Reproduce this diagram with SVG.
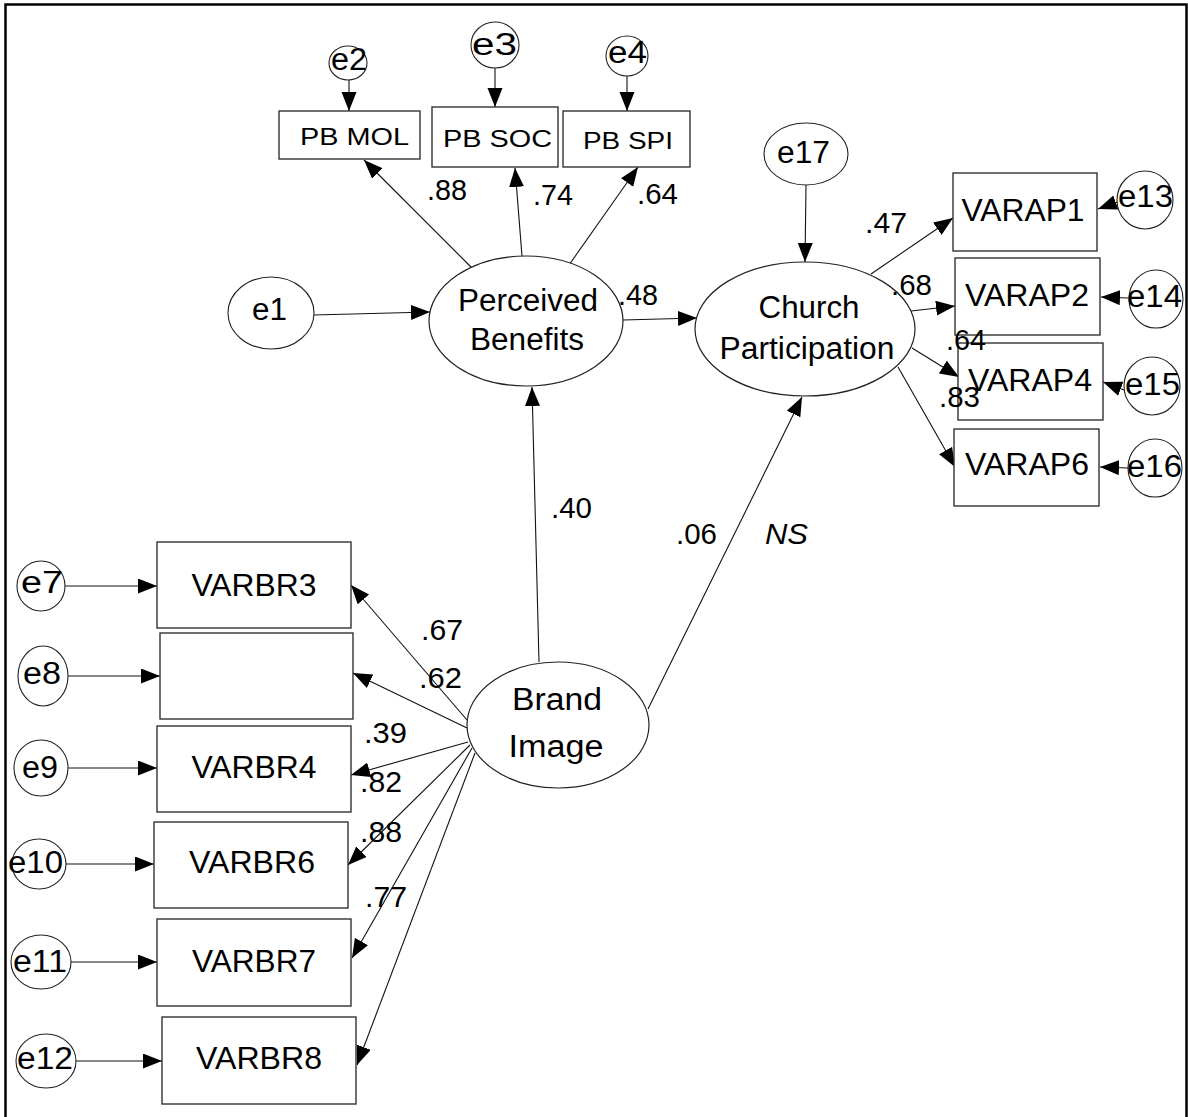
<svg xmlns="http://www.w3.org/2000/svg" width="1188" height="1117" viewBox="0 0 1188 1117">
  <defs>
    <marker id="arrow" markerUnits="userSpaceOnUse" markerWidth="20" markerHeight="16" refX="19" refY="7.5" orient="auto">
      <path d="M0,0 L19,7.5 L0,15 z" fill="#000"/>
    </marker>
    <style>
      text { font-family: "Liberation Sans", Arial, sans-serif; fill: #000; }
      .box { fill: #fff; stroke: #333; stroke-width: 1.4; }
      .lat { fill: #fff; stroke: #222; stroke-width: 1.2; }
      .err { fill: #fff; stroke: #222; stroke-width: 1.1; }
      .lbl { font-size: 31px; text-anchor: middle; }
      .pb { font-size: 24px; }
      .e { font-size: 31px; }
      .num { font-size: 29px; }
      .path { stroke: #111; stroke-width: 1.1; fill: none; marker-end: url(#arrow); }
      .frame { stroke: #000; stroke-width: 2.5; fill: none; }
    </style>
  </defs>
  <rect width="1188" height="1117" fill="#fff"/>
  <polyline class="frame" points="5.5,1117 5.5,4.5 1186.5,4.5 1186.5,1117"/>

  <!-- connectors -->
  <g id="connectors">
    <!-- error terms -->
    <line class="path" x1="349" y1="80" x2="349" y2="111"/>
    <line class="path" x1="495" y1="68" x2="495" y2="107"/>
    <line class="path" x1="627" y1="76" x2="627" y2="111"/>
    <line class="path" x1="313" y1="315" x2="430" y2="312"/>
    <line class="path" x1="806" y1="185" x2="805" y2="262"/>
    <line class="path" x1="1120" y1="201" x2="1098" y2="209"/>
    <line class="path" x1="1128" y1="298" x2="1101" y2="297"/>
    <line class="path" x1="1124" y1="390" x2="1103" y2="382"/>
    <line class="path" x1="1128" y1="468" x2="1100" y2="467"/>
    <line class="path" x1="65" y1="586" x2="157" y2="586"/>
    <line class="path" x1="68" y1="676" x2="160" y2="676"/>
    <line class="path" x1="68" y1="768" x2="157" y2="768"/>
    <line class="path" x1="66" y1="864" x2="154" y2="864"/>
    <line class="path" x1="71" y1="962" x2="157" y2="962"/>
    <line class="path" x1="76" y1="1061" x2="162" y2="1061"/>
    <!-- Perceived Benefits loadings -->
    <line class="path" x1="472" y1="268" x2="364" y2="160"/>
    <line class="path" x1="522" y1="256" x2="515" y2="168"/>
    <line class="path" x1="569" y1="265" x2="638" y2="167"/>
    <!-- structural paths -->
    <line class="path" x1="623" y1="320" x2="697" y2="318"/>
    <line class="path" x1="539" y1="662" x2="532" y2="387"/>
    <line class="path" x1="648" y1="709" x2="802" y2="397"/>
    <!-- Church Participation loadings -->
    <line class="path" x1="871" y1="274" x2="953" y2="218"/>
    <line class="path" x1="911" y1="311" x2="955" y2="306"/>
    <line class="path" x1="912" y1="348" x2="959" y2="377"/>
    <line class="path" x1="898" y1="367" x2="955" y2="467"/>
    <!-- Brand Image loadings -->
    <line class="path" x1="467" y1="720" x2="351" y2="585"/>
    <line class="path" x1="467" y1="728" x2="353" y2="673"/>
    <line class="path" x1="468" y1="742" x2="351" y2="775"/>
    <line class="path" x1="470" y1="745" x2="348" y2="865"/>
    <line class="path" x1="472" y1="748" x2="352" y2="958"/>
    <line class="path" x1="475" y1="753" x2="357" y2="1065"/>
  </g>

  <!-- latent variables -->
  <g id="perceived-benefits">
    <ellipse class="lat" cx="526" cy="321" rx="97" ry="65"/>
    <text class="lbl" x="528" y="311" textLength="140" lengthAdjust="spacingAndGlyphs">Perceived</text>
    <text class="lbl" x="527" y="350" textLength="114" lengthAdjust="spacingAndGlyphs">Benefits</text>
  </g>
  <g id="church-participation">
    <ellipse class="lat" cx="805" cy="329" rx="110" ry="67"/>
    <text class="lbl" x="809" y="318" textLength="101" lengthAdjust="spacingAndGlyphs">Church</text>
    <text class="lbl" x="807" y="359" textLength="175" lengthAdjust="spacingAndGlyphs">Participation</text>
  </g>
  <g id="brand-image">
    <ellipse class="lat" cx="558" cy="725" rx="91" ry="63"/>
    <text class="lbl" x="557" y="710" textLength="90" lengthAdjust="spacingAndGlyphs">Brand</text>
    <text class="lbl" x="556" y="757" textLength="95" lengthAdjust="spacingAndGlyphs">Image</text>
  </g>

  <!-- Perceived Benefits indicators -->
  <g id="pb-mol">
    <rect class="box" x="279" y="111" width="141" height="48"/>
    <text class="pb" x="300" y="145" textLength="109" lengthAdjust="spacingAndGlyphs">PB MOL</text>
  </g>
  <g id="pb-soc">
    <rect class="box" x="432" y="107" width="126" height="60"/>
    <text class="pb" x="443" y="147" textLength="109" lengthAdjust="spacingAndGlyphs">PB SOC</text>
  </g>
  <g id="pb-spi">
    <rect class="box" x="563" y="111" width="127" height="56"/>
    <text class="pb" x="583" y="149" textLength="90" lengthAdjust="spacingAndGlyphs">PB SPI</text>
  </g>

  <!-- Church Participation indicators -->
  <g id="varap1">
    <rect class="box" x="953" y="173" width="144" height="78"/>
    <text class="lbl" x="1023" y="221" textLength="123" lengthAdjust="spacingAndGlyphs">VARAP1</text>
  </g>
  <g id="varap2">
    <rect class="box" x="955" y="258" width="145" height="77"/>
    <text class="lbl" x="1027" y="306" textLength="124" lengthAdjust="spacingAndGlyphs">VARAP2</text>
  </g>
  <g id="varap4">
    <rect class="box" x="958" y="343" width="145" height="77"/>
    <text class="lbl" x="1030" y="391" textLength="124" lengthAdjust="spacingAndGlyphs">VARAP4</text>
  </g>
  <g id="varap6">
    <rect class="box" x="954" y="429" width="145" height="77"/>
    <text class="lbl" x="1027" y="475" textLength="124" lengthAdjust="spacingAndGlyphs">VARAP6</text>
  </g>

  <!-- Brand Image indicators -->
  <g id="varbr3">
    <rect class="box" x="157" y="542" width="194" height="86"/>
    <text class="lbl" x="254" y="596" textLength="125" lengthAdjust="spacingAndGlyphs">VARBR3</text>
  </g>
  <g id="varbr-blank">
    <rect class="box" x="160" y="633" width="193" height="86"/>
  </g>
  <g id="varbr4">
    <rect class="box" x="157" y="726" width="194" height="86"/>
    <text class="lbl" x="254" y="778" textLength="125" lengthAdjust="spacingAndGlyphs">VARBR4</text>
  </g>
  <g id="varbr6">
    <rect class="box" x="154" y="822" width="194" height="86"/>
    <text class="lbl" x="252" y="873" textLength="126" lengthAdjust="spacingAndGlyphs">VARBR6</text>
  </g>
  <g id="varbr7">
    <rect class="box" x="157" y="919" width="194" height="87"/>
    <text class="lbl" x="254" y="972" textLength="124" lengthAdjust="spacingAndGlyphs">VARBR7</text>
  </g>
  <g id="varbr8">
    <rect class="box" x="162" y="1017" width="194" height="87"/>
    <text class="lbl" x="259" y="1069" textLength="126" lengthAdjust="spacingAndGlyphs">VARBR8</text>
  </g>

  <!-- error terms -->
  <g id="e1"><ellipse class="err" cx="271" cy="313" rx="43" ry="36"/><text class="e" x="252" y="320" textLength="35" lengthAdjust="spacingAndGlyphs">e1</text></g>
  <g id="e2"><ellipse class="err" cx="348" cy="63" rx="19" ry="17"/><text class="e" x="331" y="70" textLength="36" lengthAdjust="spacingAndGlyphs">e2</text></g>
  <g id="e3"><ellipse class="err" cx="495" cy="45" rx="24" ry="23"/><text class="e" x="472" y="55" textLength="45" lengthAdjust="spacingAndGlyphs">e3</text></g>
  <g id="e4"><ellipse class="err" cx="627" cy="56" rx="21" ry="20"/><text class="e" x="608" y="63" textLength="39" lengthAdjust="spacingAndGlyphs">e4</text></g>
  <g id="e17"><ellipse class="err" cx="806" cy="154" rx="42" ry="31"/><text class="e" x="777" y="163" textLength="53" lengthAdjust="spacingAndGlyphs">e17</text></g>
  <g id="e13"><ellipse class="err" cx="1145" cy="200" rx="28" ry="29"/><text class="e" x="1118" y="207" textLength="55" lengthAdjust="spacingAndGlyphs">e13</text></g>
  <g id="e14"><ellipse class="err" cx="1156" cy="299" rx="27" ry="29"/><text class="e" x="1127" y="307" textLength="55" lengthAdjust="spacingAndGlyphs">e14</text></g>
  <g id="e15"><ellipse class="err" cx="1152" cy="386" rx="28" ry="29"/><text class="e" x="1125" y="395" textLength="55" lengthAdjust="spacingAndGlyphs">e15</text></g>
  <g id="e16"><ellipse class="err" cx="1155" cy="468" rx="27" ry="29"/><text class="e" x="1127" y="477" textLength="55" lengthAdjust="spacingAndGlyphs">e16</text></g>
  <g id="e7"><ellipse class="err" cx="41" cy="586" rx="24" ry="25"/><text class="e" x="21" y="593" textLength="42" lengthAdjust="spacingAndGlyphs">e7</text></g>
  <g id="e8"><ellipse class="err" cx="43" cy="676" rx="25" ry="30"/><text class="e" x="23" y="684" textLength="38" lengthAdjust="spacingAndGlyphs">e8</text></g>
  <g id="e9"><ellipse class="err" cx="41" cy="768" rx="27" ry="28"/><text class="e" x="22" y="778" textLength="36" lengthAdjust="spacingAndGlyphs">e9</text></g>
  <g id="e10"><ellipse class="err" cx="39" cy="864" rx="27" ry="25"/><text class="e" x="8" y="873" textLength="55" lengthAdjust="spacingAndGlyphs">e10</text></g>
  <g id="e11"><ellipse class="err" cx="41" cy="962" rx="30" ry="27"/><text class="e" x="13" y="972" textLength="54" lengthAdjust="spacingAndGlyphs">e11</text></g>
  <g id="e12"><ellipse class="err" cx="46" cy="1061" rx="30" ry="27"/><text class="e" x="17" y="1069" textLength="56" lengthAdjust="spacingAndGlyphs">e12</text></g>

  <!-- path coefficients, drawn over the shapes -->
  <g id="coefficients" class="num">
    <text x="427" y="200" textLength="40" lengthAdjust="spacingAndGlyphs">.88</text>
    <text x="533" y="205" textLength="40" lengthAdjust="spacingAndGlyphs">.74</text>
    <text x="637" y="204" textLength="41" lengthAdjust="spacingAndGlyphs">.64</text>
    <text x="618" y="305" textLength="40" lengthAdjust="spacingAndGlyphs">.48</text>
    <text x="865" y="233" textLength="42" lengthAdjust="spacingAndGlyphs">.47</text>
    <text x="891" y="295" textLength="41" lengthAdjust="spacingAndGlyphs">.68</text>
    <text x="946" y="350" textLength="40" lengthAdjust="spacingAndGlyphs">.64</text>
    <text x="939" y="407" textLength="41" lengthAdjust="spacingAndGlyphs">.83</text>
    <text x="551" y="518" textLength="41" lengthAdjust="spacingAndGlyphs">.40</text>
    <text x="676" y="544" textLength="41" lengthAdjust="spacingAndGlyphs">.06</text>
    <text x="765" y="544" font-style="italic" textLength="43" lengthAdjust="spacingAndGlyphs">NS</text>
    <text x="421" y="640" textLength="42" lengthAdjust="spacingAndGlyphs">.67</text>
    <text x="419" y="688" textLength="43" lengthAdjust="spacingAndGlyphs">.62</text>
    <text x="364" y="743" textLength="43" lengthAdjust="spacingAndGlyphs">.39</text>
    <text x="360" y="792" textLength="42" lengthAdjust="spacingAndGlyphs">.82</text>
    <text x="360" y="842" textLength="42" lengthAdjust="spacingAndGlyphs">.88</text>
    <text x="365" y="907" textLength="42" lengthAdjust="spacingAndGlyphs">.77</text>
  </g>
</svg>
